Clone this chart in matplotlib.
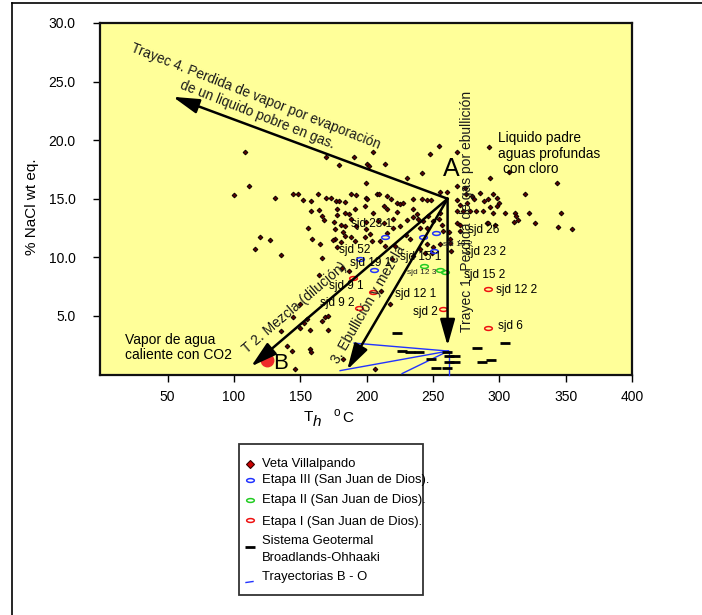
import numpy as np
import matplotlib
matplotlib.use("Agg")
import matplotlib.pyplot as plt
from matplotlib.path import Path
from matplotlib.lines import Line2D
from matplotlib.patches import Rectangle

plt.rcParams['font.family'] = ['Liberation Sans', 'DejaVu Sans']

W, H = 702, 615

# ---------------- data ----------------
veta_th = [108.6, 169.2, 179.0, 190.8, 205.1, 200.0, 201.6, 213.9, 199.6, 222.7,
           254.9, 247.9, 268.0, 241.6, 230.3, 292.1, 292.6, 274.2, 343.6, 319.7,
           307.6, 295.6, 298.0, 215.2, 218.5, 225.2, 227.7, 235.3, 241.6, 245.4,
           248.4, 255.4, 260.4, 268.0, 279.3, 281.0, 288.6, 291.8,
           111.2, 99.9, 130.7, 144.7, 147.9, 151.7, 158.0, 163.0, 169.7, 173.2,
           177.0, 179.5, 183.5, 188.2, 192.0, 199.5, 208.0,
           158.0, 164.0, 166.5, 168.0, 177.3, 178.0, 183.3, 187.0, 188.2, 191.5,
           199.0, 175.5, 180.7, 184.0, 176.5, 182.0, 192.0, 199.3, 199.8, 156.0,
           119.4, 127.0, 115.7, 135.2, 158.7, 164.5, 176.0, 181.0, 184.0, 188.5,
           191.5, 199.0, 166.2, 164.0, 181.5, 186.5, 177.7, 174.7,
           150.0, 154.8, 166.5, 168.6, 171.0, 149.8, 157.3, 171.0, 140.0, 143.8,
           157.3, 158.0, 146.0, 182.3, 135.5, 144.6, 152.9, 206.5, 210.9, 217.8,
           209.2, 200.1, 235.3, 237.8, 230.3, 235.3, 222.7, 215.2, 212.7, 205.1,
           208.9, 212.7, 220.2, 220.2, 225.2, 229.5, 232.8, 240.3, 245.4, 239.0,
           242.8, 246.6, 250.3, 255.4, 254.9, 256.7, 257.9, 261.7, 250.3, 255.4,
           245.4, 262.9, 262.9, 240.3, 244.0, 235.3, 249.1,
           275.0, 285.5, 300.1, 304.4, 290.6, 296.9, 268.0, 270.5, 270.5,
           268.0, 272.6, 277.9, 282.6, 287.8,
           202.6, 203.9, 210.2, 213.9, 215.2, 221.5, 219.0,
           346.6, 355.0, 344.0, 327.0, 322.0, 312.0, 312.7, 311.0, 314.4, 291.3,
           295.6, 293.0, 298.0, 268.0, 270.5, 275.5, 263.4]
veta_nacl = [19.0, 18.55, 17.9, 18.6, 19.0, 18.0, 17.8, 18.0, 16.36, 14.6,
             19.54, 18.8, 18.97, 17.2, 16.8, 19.45, 16.8, 15.9, 16.36, 15.4,
             17.3, 15.37, 15.1, 15.2, 15.0, 14.55, 14.6, 15.0, 15.0, 14.9,
             14.9, 15.56, 15.56, 16.07, 15.2, 15.0, 14.8, 14.94,
             16.1, 15.3, 15.1, 15.4, 15.4, 14.9, 14.8, 15.4, 15.1, 15.1,
             14.85, 14.85, 14.7, 15.4, 15.3, 15.1, 15.4,
             13.98, 14.0, 13.5, 13.2, 14.15, 13.6, 13.8, 13.7, 13.3, 14.1,
             14.4, 13.0, 12.75, 12.7, 12.4, 12.2, 12.7, 13.0, 12.4, 12.5,
             11.7, 11.5, 10.7, 10.2, 11.6, 11.1, 11.6, 11.3, 11.8, 11.7,
             11.4, 11.7, 9.94, 8.5, 9.1, 8.8, 10.9, 11.5,
             6.0, 4.7, 4.55, 4.9, 5.0, 3.95, 3.8, 3.8, 2.4, 2.0,
             2.2, 1.9, 0.46, 1.3, 3.7, 4.9, 4.4, 0.5, 7.1, 6.0,
             15.43, 15.0, 14.1, 13.66, 13.2, 13.4, 13.86, 14.1, 14.37, 13.8,
             13.1, 12.96, 13.24, 12.53, 12.67, 11.93, 11.53, 12.53, 12.53, 13.24,
             13.1, 13.5, 13.1, 13.8, 13.24, 12.8, 12.24, 12.19, 10.9, 11.1,
             11.1, 11.53, 11.25, 10.68, 10.4, 10.1, 10.4,
             15.37, 15.5, 14.66, 13.75, 12.96, 12.8, 12.96, 12.8, 12.24,
             13.94, 13.94, 13.94, 13.94, 13.94,
             11.96, 11.39, 11.39, 10.96, 12.1, 10.96, 9.83,
             13.8, 12.4, 12.6, 12.9, 13.75, 13.8, 13.5, 13.0, 13.2, 12.95,
             13.8, 14.26, 14.4, 14.9, 14.5, 14.66, 10.5]

etapa3_th = [213.5, 242.3, 252.6, 251.0, 195.3, 205.8]
etapa3_nacl = [11.76, 11.73, 12.04, 10.57, 9.89, 8.95]
etapa2_th = [243.3, 255.0, 259.0]
etapa2_nacl = [9.23, 8.95, 8.78]
etapa1_th = [291.6, 257.3, 291.6, 205.0, 189.5, 194.2]
etapa1_nacl = [7.27, 5.63, 3.95, 7.0, 8.2, 5.7]

broad_th = [222.7, 226.5, 232.8, 239.8, 260.9, 261.7, 266.7, 261.7, 266.7,
            252.4, 260.9, 283.0, 286.8, 293.8, 304.4, 248.4]
broad_nacl = [3.58, 1.97, 1.88, 1.88, 1.88, 1.54, 1.54, 1.08, 1.03,
              0.52, 0.57, 2.27, 1.03, 1.25, 2.67, 1.31]

vapor_th = [124.7]
vapor_nacl = [1.25]

# trajectories B - O
traj_start_th = [190.5, 180.0, 226.7, 262.0]
traj_start_nacl = [2.68, 0.33, 0.08, 0.0]
traj_end_th = [261.5, 261.5, 261.5, 262.0]
traj_end_nacl = [2.0, 2.0, 2.0, 2.0]

# arrows from point A
point_A = (261.0, 15.0)
arrow_tips = {'t4': (53.9, 23.7), 't1': (261.0, 2.45), 't2': (112.9, 0.69), 't3': (185.3, 0.4)}

sample_labels = ['sjd 23 1', 'sjd 52', 'sjd 19 1', 'sjd 15 1', 'sjd 26', 'sjd 23 2',
                 'sjd 15 2', 'sjd 12 2', 'sjd 12 1', 'sjd 2', 'sjd 6', 'sjd 9 1', 'sjd 9 2']
sample_th = [188.3, 179.3, 187.6, 225.2, 276.5, 274.3, 273.5, 297.6, 221.5, 234.9, 299.0, 171.7, 164.9]
sample_nacl = [12.81, 10.6, 9.49, 10.0, 12.3, 10.43, 8.47, 7.19, 6.85, 5.32, 4.12, 7.53, 6.08]
small_labels = ['sjd 12 3', 'sjd 19 2']
small_th = [230.5, 257.6]
small_nacl = [8.72, 11.1]

xticks = [50, 100, 150, 200, 250, 300, 350, 400]
yticks = [5, 10, 15, 20, 25, 30]

# ---------------- figure ----------------
def fx(px):
    return px / W

def fy(py):
    return 1 - py / H

fig = plt.figure(figsize=(W / 100, H / 100), dpi=100)
fig.patch.set_facecolor('white')
ax = fig.add_axes([fx(100), fy(374.5), (632 - 100) / W, (374.5 - 23) / H])
ax.set_facecolor('#ffff99')
ax.set_xlim(-1, 400)
ax.set_ylim(0, 30)
for s in ax.spines.values():
    s.set_linewidth(1.6)
    s.set_color('#111111')
ax.set_xticks(xticks)
ax.set_xticklabels([str(t) for t in xticks])
ax.set_yticks(yticks)
ax.set_yticklabels(['%.1f' % t for t in yticks])
ax.tick_params(axis='x', direction='out', length=5, width=1, pad=6.5, labelsize=10)
ax.tick_params(axis='y', direction='out', length=5, width=1, pad=12.5, labelsize=10)

# ellipse marker
th = np.linspace(0, 2 * np.pi, 41)
ell = Path(np.c_[np.cos(th), 0.5 * np.sin(th)], closed=True)

# trajectories
for x0, y0, x1, y1 in zip(traj_start_th, traj_start_nacl, traj_end_th, traj_end_nacl):
    ax.plot([x0, x1], [y0, y1], color='#2233ff', lw=1.0, zorder=3, clip_on=False)

# scatter points
ax.plot(veta_th, veta_nacl, ls='none', marker='D', ms=2.4, mfc='#5a0000',
        mec='#0a0000', mew=0.7, zorder=4)
ax.plot(broad_th, broad_nacl, ls='none', marker='_', ms=6.5, mew=2.0, color='black', zorder=4)
ax.plot(etapa3_th, etapa3_nacl, ls='none', marker=ell, ms=5.5, mfc='none', mec='#2233ff', mew=1.1, zorder=5)
ax.plot(etapa2_th, etapa2_nacl, ls='none', marker=ell, ms=5.5, mfc='none', mec='#22cc22', mew=1.1, zorder=5)
ax.plot(etapa1_th, etapa1_nacl, ls='none', marker=ell, ms=5.5, mfc='none', mec='#ee1111', mew=1.1, zorder=5)
ax.plot(vapor_th, vapor_nacl, ls='none', marker='o', ms=9, mfc='#ee2a2a', mec='#ee2a2a', zorder=5)

# arrows
for key, tip in arrow_tips.items():
    ax.annotate('', xy=tip, xytext=point_A,
                arrowprops=dict(arrowstyle='-|>,head_length=1.6,head_width=0.45',
                                lw=1.8, color='black', shrinkA=0, shrinkB=0,
                                mutation_scale=10), zorder=6)

tc = '#1a1a1a'
ax.text(116.3, 23.76, 'Trayec 4. Perdida de vapor por evaporación', rotation=-21.5,
        rotation_mode='anchor', ha='center', va='center', fontsize=9.8, color=tc, zorder=7)
ax.text(117.9, 22.15, 'de un liquido pobre en gas.', rotation=-21.5,
        rotation_mode='anchor', ha='center', va='center', fontsize=9.8, color=tc, zorder=7)
ax.text(275.8, 13.92, 'Trayec 1. Perdida de gas por ebullición', rotation=90,
        rotation_mode='anchor', ha='center', va='center', fontsize=10, color=tc, zorder=7)
ax.text(145.6, 5.66, 'T 2. Mezcla (dilución)', rotation=40.5,
        rotation_mode='anchor', ha='center', va='center', fontsize=10, color=tc, zorder=7)
ax.text(201.5, 5.97, '3. Ebullición y mezcla', rotation=60,
        rotation_mode='anchor', ha='center', va='center', fontsize=10, color=tc, zorder=7)

ax.text(299.1, 20.2, 'Liquido padre', ha='left', va='center', fontsize=9.8, color='black', zorder=7)
ax.text(299.1, 18.84, 'aguas profundas', ha='left', va='center', fontsize=9.8, color='black', zorder=7)
ax.text(302.5, 17.57, 'con cloro', ha='left', va='center', fontsize=9.8, color='black', zorder=7)
ax.text(18.0, 2.96, 'Vapor de agua', ha='left', va='center', fontsize=10, color='black', zorder=7)
ax.text(18.0, 1.65, 'caliente con CO2', ha='left', va='center', fontsize=10, color='black', zorder=7)

ax.text(263.7, 17.58, 'A', ha='center', va='center', fontsize=18, color='black', zorder=7)
ax.text(135.2, 0.95, 'B', ha='center', va='center', fontsize=16, color='black', zorder=7)

for lab, x, y in zip(sample_labels, sample_th, sample_nacl):
    ax.text(x, y, lab, ha='left', va='center', fontsize=8.5, color='black', zorder=7)
for lab, x, y in zip(small_labels, small_th, small_nacl):
    ax.text(x, y, lab, ha='left', va='center', fontsize=6, color='#222222', zorder=7)

# axis labels
fig.text(fx(32), fy(207), '% NaCl wt eq.', rotation=90, ha='center', va='center', fontsize=11)
fig.text(fx(304), fy(421), 'T', ha='left', va='baseline', fontsize=11)
fig.text(fx(313), fy(426), 'h', ha='left', va='baseline', fontsize=11, style='italic')
fig.text(fx(334), fy(416), 'o', ha='left', va='baseline', fontsize=8.5)
fig.text(fx(342), fy(422), 'C', ha='left', va='baseline', fontsize=11)

# outer frame lines
fig.add_artist(Line2D([fx(12), 1.0], [fy(3), fy(3)], color='black', lw=1.2))
fig.add_artist(Line2D([fx(12), fx(12)], [fy(3), 0.0], color='black', lw=1.2))

# legend (manual)
fig.add_artist(Rectangle((fx(239.3), fy(595)), (423.3 - 239.3) / W, (595 - 444) / H,
                         fill=False, ec='#333333', lw=1.3, transform=fig.transFigure))
lf = dict(family=['Liberation Sans', 'DejaVu Sans'], fontsize=9.4)
mx = fx(250)
fig.add_artist(Line2D([mx], [fy(464)], marker='D', ms=4, mfc='#cc0000', mec='#330000', mew=0.8, ls='none'))
fig.add_artist(Line2D([mx], [fy(480)], marker=ell, ms=5.5, mfc='none', mec='#2233ff', mew=1.1, ls='none'))
fig.add_artist(Line2D([mx], [fy(500)], marker=ell, ms=5.5, mfc='none', mec='#22cc22', mew=1.1, ls='none'))
fig.add_artist(Line2D([mx], [fy(520)], marker=ell, ms=5.5, mfc='none', mec='#ee1111', mew=1.1, ls='none'))
fig.add_artist(Line2D([mx], [fy(547)], marker='_', ms=6.5, mew=2.0, color='black', ls='none'))
fig.add_artist(Line2D([fx(246), fx(253)], [fy(582.5), fy(581.5)], color='#2233ff', lw=1.0))
tx = fx(262)
fig.text(tx, fy(464), 'Veta Villalpando', ha='left', va='center', **lf)
fig.text(tx, fy(480), 'Etapa III (San Juan de Dios).', ha='left', va='center', **lf)
fig.text(tx, fy(500), 'Etapa II (San Juan de Dios).', ha='left', va='center', **lf)
fig.text(tx, fy(521.5), 'Etapa I (San Juan de Dios).', ha='left', va='center', **lf)
fig.text(tx, fy(541.5), 'Sistema Geotermal', ha='left', va='center', **lf)
fig.text(tx, fy(558.3), 'Broadlands-Ohhaaki', ha='left', va='center', **lf)
fig.text(tx, fy(576.7), 'Trayectorias B - O', ha='left', va='center', **lf)

fig.savefig('out.png', dpi=100)
